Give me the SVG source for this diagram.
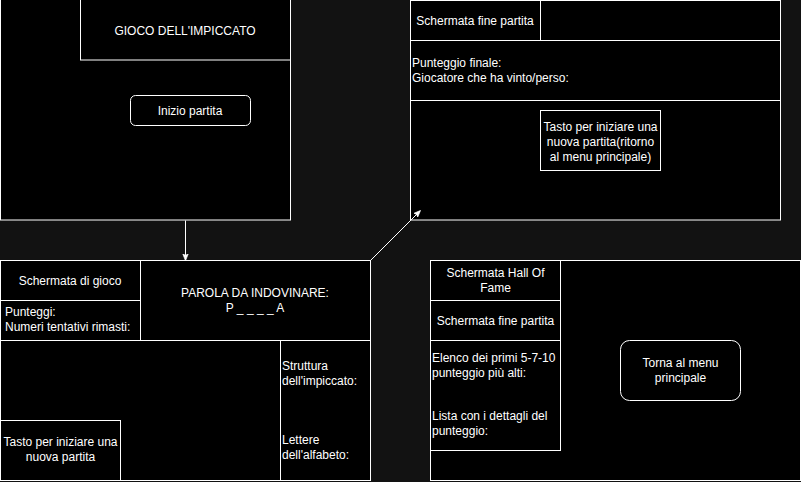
<svg xmlns="http://www.w3.org/2000/svg" width="801" height="482" viewBox="0 0 801 482">
<style>
.f{fill:#000;stroke:#fff;stroke-width:1}
.t{font-family:"Liberation Sans",Arial,sans-serif;font-size:12px;fill:#fff}
.c{text-anchor:middle}
.cn{stroke:#fff;stroke-width:1;fill:none}
</style>
<defs>
<marker id="ah" viewBox="0 0 10 10" refX="9" refY="5" markerWidth="7" markerHeight="7" markerUnits="userSpaceOnUse" orient="auto">
<path d="M0,1 L10,5 L0,9 L2.5,5 Z" fill="#fff" stroke="#fff"/>
</marker>
</defs>
<rect x="0" y="0" width="801" height="482" fill="#121212"/>
<g id="menu">
<rect class="f" x="0.5" y="-0.5" width="290" height="220.5"/>
<rect class="f" x="80.5" y="-0.5" width="210" height="60.5"/>
<text class="t c" x="185" y="35">GIOCO DELL'IMPICCATO</text>
<rect class="f" x="130.5" y="95.5" width="120" height="30" rx="5"/>
<text class="t c" x="190" y="115">Inizio partita</text>
</g>
<g id="fine">
<rect class="f" x="410.5" y="0.5" width="370" height="219.5"/>
<rect class="f" x="410.5" y="0.5" width="130" height="40"/>
<text class="t c" x="475" y="25">Schermata fine partita</text>
<rect class="f" x="410.5" y="40.5" width="370" height="60"/>
<text class="t" x="412" y="67">Punteggio finale:</text>
<text class="t" x="412" y="82">Giocatore che ha vinto/perso:</text>
<rect class="f" x="540.5" y="110.5" width="120" height="60"/>
<text class="t c" x="600.5" y="131">Tasto per iniziare una</text>
<text class="t c" x="600.5" y="146">nuova partita(ritorno</text>
<text class="t c" x="600.5" y="161">al menu principale)</text>
</g>
<g id="gioco">
<rect class="f" x="0.5" y="260.5" width="370" height="220"/>
<rect class="f" x="0.5" y="260.5" width="140" height="40"/>
<text class="t c" x="70" y="285">Schermata di gioco</text>
<rect class="f" x="0.5" y="300.5" width="140" height="40"/>
<text class="t" x="5" y="316">Punteggi:</text>
<text class="t" x="5" y="331">Numeri tentativi rimasti:</text>
<rect class="f" x="140.5" y="260.5" width="230" height="80"/>
<text class="t c" x="255" y="297">PAROLA DA INDOVINARE:</text>
<text class="t c" x="255" y="312">P _ _ _ _ A</text>
<rect class="f" x="280.5" y="340.5" width="90" height="140"/>
<text class="t" x="282" y="370">Struttura</text>
<text class="t" x="282" y="385">dell'impiccato:</text>
<text class="t" x="282" y="444">Lettere</text>
<text class="t" x="282" y="459">dell'alfabeto:</text>
<rect class="f" x="0.5" y="420.5" width="120" height="60"/>
<text class="t c" x="60.5" y="446">Tasto per iniziare una</text>
<text class="t c" x="60.5" y="461">nuova partita</text>
</g>
<g id="hall">
<rect class="f" x="430.5" y="260.5" width="370" height="220"/>
<rect class="f" x="430.5" y="260.5" width="130" height="40"/>
<text class="t c" x="495.5" y="277">Schermata Hall Of</text>
<text class="t c" x="495.5" y="292">Fame</text>
<rect class="f" x="430.5" y="300.5" width="130" height="40"/>
<text class="t c" x="495.5" y="325">Schermata fine partita</text>
<rect class="f" x="430.5" y="340.5" width="130" height="110"/>
<text class="t" x="432" y="362">Elenco dei primi 5-7-10</text>
<text class="t" x="432" y="377">punteggio più alti:</text>
<text class="t" x="432" y="420">Lista con i dettagli del</text>
<text class="t" x="432" y="435">punteggio:</text>
<rect class="f" x="620.5" y="340.5" width="120" height="60" rx="9"/>
<text class="t c" x="680.5" y="367">Torna al menu</text>
<text class="t c" x="680.5" y="382">principale</text>
</g>
<g id="connectors">
<path class="cn" d="M185.5,220.5 L185.5,260" marker-end="url(#ah)"/>
<path class="cn" d="M370.5,260.5 L420,211" marker-end="url(#ah)"/>
</g>
</svg>
